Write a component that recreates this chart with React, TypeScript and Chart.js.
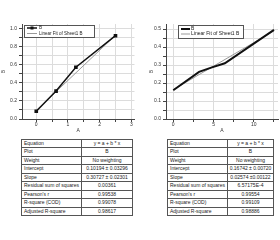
import React, { useEffect, useRef } from "react";
import { Chart, registerables } from "chart.js";

Chart.register(...registerables);

// ---- data ----
const leftX = [0, 0.625, 1.25, 2.5];
const leftY = [0.086, 0.31, 0.575, 0.925];
const leftFitX = [0, 2.5];
const leftFitY = [0.095, 0.93];

const rightX = [0, 3.2, 4.8, 6.4, 12.5];
const rightY = [0.16, 0.262, 0.287, 0.31, 0.495];
const rightFitX = [0, 12.5];
const rightFitY = [0.163, 0.49];

const leftXTicks = [0, 0.5, 1, 1.5, 2, 2.5, 3];
const leftYTicks = [0, 0.1, 0.2, 0.3, 0.4, 0.5, 0.6, 0.7, 0.8, 0.9, 1.0];
const rightXTicks = [0, 2.5, 5, 7.5, 10, 12.5];
const rightYTicks = [0, 0.05, 0.1, 0.15, 0.2, 0.25, 0.3, 0.35, 0.4, 0.45, 0.5];

const seriesLabel = "B";
const fitLabel = "Linear Fit of Sheet1 B";
const xTitle = "A";
const yTitle = "B";

const tableLabels = [
  "Equation",
  "Plot",
  "Weight",
  "Intercept",
  "Slope",
  "Residual sum of squares",
  "Pearson's r",
  "R-square (COD)",
  "Adjusted R-square",
];
const leftTableValues = [
  "y = a + b * x",
  "B",
  "No weighting",
  "0.10194 \u00b1 0.03296",
  "0.30727 \u00b1 0.02301",
  "0.00361",
  "0.99538",
  "0.99078",
  "0.98617",
];
const rightTableValues = [
  "y = a + b * x",
  "B",
  "No weighting",
  "0.16742 \u00b1 0.00720",
  "0.02574 \u00b10.00122",
  "6.57175E-4",
  "0.99554",
  "0.99109",
  "0.98886",
];

const FONT = '"Liberation Sans", Arial, sans-serif';

const legendPlugin = {
  id: "boxLegend",
  afterDraw(chart: any, _args: any, opts: any) {
    const { ctx } = chart;
    const { x, y, w, h, fontSize, firstRow, rowGap, sample, textX } = opts;
    ctx.save();
    ctx.fillStyle = "#fff";
    ctx.fillRect(x, y, w, h);
    ctx.strokeStyle = "#555";
    ctx.lineWidth = 1;
    ctx.strokeRect(x + 0.5, y + 0.5, w, h);
    chart.data.datasets.forEach((ds: any, i: number) => {
      const ly = y + firstRow + i * rowGap;
      ctx.strokeStyle = ds.borderColor;
      ctx.lineWidth = ds.borderWidth;
      ctx.beginPath();
      ctx.moveTo(x + 3, ly);
      ctx.lineTo(x + 3 + sample, ly);
      ctx.stroke();
      if (ds.pointRadius > 0) {
        ctx.fillStyle = ds.pointBackgroundColor;
        ctx.fillRect(x + 3 + sample / 2 - 1.5, ly - 1.5, 3, 3);
      }
      ctx.fillStyle = "#222";
      ctx.font = `${fontSize}px ${FONT}`;
      ctx.textBaseline = "middle";
      ctx.textAlign = "left";
      ctx.fillText(ds.label, x + textX, ly);
    });
    ctx.restore();
  },
};

type Cfg = {
  xs: number[];
  ys: number[];
  fx: number[];
  fy: number[];
  xTicks: number[];
  yTicks: number[];
  xMin: number;
  xMax: number;
  yMax: number;
  xLabel: (v: number) => string;
  yDecimals: number;
  yAxisWidth: number;
  yTitlePad: number;
  padRight: number;
  lineWidth: number;
  pointRadius: number;
  legend: any;
};

function buildChart(canvas: HTMLCanvasElement, c: Cfg) {
  const tickFont = { family: FONT, size: 5 };
  return new Chart(canvas, {
    type: "line",
    data: {
      datasets: [
        {
          label: seriesLabel,
          data: c.xs.map((x, i) => ({ x, y: c.ys[i] })),
          borderColor: "#111",
          backgroundColor: "#111",
          pointBackgroundColor: "#111",
          pointBorderColor: "#111",
          borderWidth: c.lineWidth,
          pointRadius: c.pointRadius,
          pointStyle: "rect",
          order: 1,
        },
        {
          label: fitLabel,
          data: c.fx.map((x, i) => ({ x, y: c.fy[i] })),
          borderColor: "#999",
          backgroundColor: "#999",
          borderWidth: 1,
          pointRadius: 0,
          order: 2,
        },
      ],
    },
    options: {
      responsive: false,
      animation: false,
      events: [],
      layout: { padding: { top: 24, right: c.padRight, left: 0, bottom: 0 } },
      plugins: {
        legend: { display: false },
        tooltip: { enabled: false },
        boxLegend: c.legend,
      } as any,
      scales: {
        x: {
          type: "linear",
          min: c.xMin,
          max: c.xMax,
          afterBuildTicks: (s: any) => {
            s.ticks = c.xTicks.map((v) => ({ value: v }));
          },
          afterFit: (s: any) => {
            s.height = 17;
          },
          grid: { color: "#dcdcdc", tickColor: "#444", tickLength: 3, lineWidth: 1 },
          border: { display: true, color: "#444", width: 1 },
          ticks: {
            font: tickFont,
            color: "#333",
            padding: 0,
            maxRotation: 0,
            autoSkip: false,
            callback: (v: any) => c.xLabel(Number(v)),
          },
          title: {
            display: true,
            text: xTitle,
            font: tickFont,
            color: "#333",
            padding: { top: 0, bottom: 2 },
          },
        },
        y: {
          type: "linear",
          min: 0,
          max: c.yMax,
          afterBuildTicks: (s: any) => {
            s.ticks = c.yTicks.map((v) => ({ value: v }));
          },
          afterFit: (s: any) => {
            s.width = c.yAxisWidth;
          },
          grid: { color: "#dcdcdc", tickColor: "#444", tickLength: 3, lineWidth: 1 },
          border: { display: true, color: "#444", width: 1 },
          ticks: {
            font: tickFont,
            color: "#333",
            padding: 2,
            autoSkip: false,
            callback: (v: any, i: number) => (i % 2 === 0 ? Number(v).toFixed(c.yDecimals) : ""),
          },
          title: {
            display: true,
            text: yTitle,
            font: tickFont,
            color: "#333",
            padding: { top: c.yTitlePad, bottom: 0 },
          },
        },
      },
    },
    plugins: [legendPlugin as any],
  });
}

function ChartBox({ left, cfg }: { left: number; cfg: Cfg }) {
  const ref = useRef<HTMLCanvasElement>(null);
  useEffect(() => {
    if (!ref.current) return;
    const ch = buildChart(ref.current, cfg);
    return () => ch.destroy();
  }, []);
  return (
    <canvas
      ref={ref}
      width={140}
      height={136}
      style={{ position: "absolute", left, top: 0, width: 140, height: 136 }}
    />
  );
}

function FitTable({ left, top, w1, w2, values }: { left: number; top: number; w1: number; w2: number; values: string[] }) {
  const rowH = 76 / tableLabels.length;
  const cell: React.CSSProperties = {
    border: "1px solid #555",
    padding: 0,
    height: rowH - 1,
    lineHeight: `${rowH - 1}px`,
    fontSize: 5,
    fontFamily: FONT,
    color: "#222",
    whiteSpace: "nowrap",
    overflow: "hidden",
  };
  return (
    <table
      style={{
        position: "absolute",
        left,
        top,
        width: w1 + w2,
        borderCollapse: "collapse",
        tableLayout: "fixed",
      }}
    >
      <colgroup>
        <col style={{ width: w1 }} />
        <col style={{ width: w2 }} />
      </colgroup>
      <tbody>
        {tableLabels.map((lab, i) => (
          <tr key={i}>
            <td style={{ ...cell, textAlign: "left", paddingLeft: 2 }}>{lab}</td>
            <td style={{ ...cell, textAlign: "center" }}>{values[i]}</td>
          </tr>
        ))}
      </tbody>
    </table>
  );
}

const leftCfg: Cfg = {
  xs: leftX,
  ys: leftY,
  fx: leftFitX,
  fy: leftFitY,
  xTicks: leftXTicks,
  yTicks: leftYTicks,
  xMin: -0.45,
  xMax: 3.1,
  yMax: 1.055,
  xLabel: (v) => (Number.isInteger(v) ? String(v) : ""),
  yDecimals: 1,
  yAxisWidth: 22,
  yTitlePad: 1,
  padRight: 4,
  lineWidth: 1.5,
  pointRadius: 1.5,
  legend: { x: 24, y: 25, w: 70, h: 12, fontSize: 4.5, firstRow: 3, rowGap: 5.5, sample: 10, textX: 15 },
};

const rightCfg: Cfg = {
  xs: rightX,
  ys: rightY,
  fx: rightFitX,
  fy: rightFitY,
  xTicks: rightXTicks,
  yTicks: rightYTicks,
  xMin: -0.9,
  xMax: 13,
  yMax: 0.528,
  xLabel: (v) => (v % 5 === 0 ? String(v) : ""),
  yDecimals: 1,
  yAxisWidth: 26,
  yTitlePad: 9,
  padRight: 2,
  lineWidth: 2,
  pointRadius: 0,
  legend: { x: 38, y: 25, w: 65, h: 13, fontSize: 5, firstRow: 4, rowGap: 5, sample: 9, textX: 13 },
};

export default function App() {
  return (
    <div
      style={{
        position: "fixed",
        left: 0,
        top: 0,
        width: 280,
        height: 240,
        background: "#fff",
        overflow: "hidden",
      }}
    >
      <ChartBox left={0} cfg={leftCfg} />
      <ChartBox left={140} cfg={rightCfg} />
      <FitTable left={21} top={139} w1={60} w2={51} values={leftTableValues} />
      <FitTable left={167} top={139} w1={60} w2={46} values={rightTableValues} />
    </div>
  );
}
